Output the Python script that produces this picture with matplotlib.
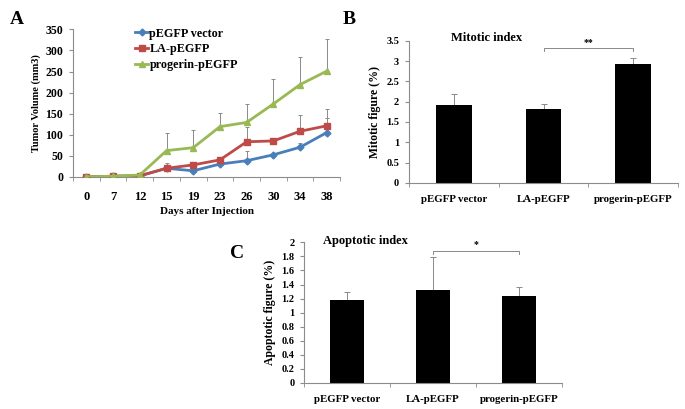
import numpy as np
import matplotlib
matplotlib.use("Agg")
import matplotlib.pyplot as plt

plt.rcParams['font.family'] = ['Liberation Serif', 'DejaVu Serif']
plt.rcParams['font.weight'] = 'bold'

# Panel A: tumor growth
days = ["0", "7", "12", "15", "19", "23", "26", "30", "34", "38"]
vector = [0, 1, 2, 20, 14, 30, 38, 52, 70, 105]
vector_err = [0, 0, 0, 0, 0, 0, 22, 0, 10, 35]
la = [0, 1, 2, 20, 28, 40, 83, 85, 108, 121]
la_err = [0, 0, 0, 13, 0, 0, 34, 0, 39, 39]
progerin = [0, 1, 4, 62, 69, 119, 129, 173, 219, 251]
progerin_err = [0, 0, 0, 41, 43, 33, 44, 60, 65, 76]

# Panels B and C
groups = ["pEGFP vector", "LA-pEGFP", "progerin-pEGFP"]
mitotic = [1.92, 1.83, 2.93]
mitotic_err = [0.26, 0.11, 0.15]
apoptotic = [1.18, 1.32, 1.24]
apoptotic_err = [0.12, 0.47, 0.13]

spine_col = '#8c8c8c'
err_col = '#8a8a8a'

fig = plt.figure(figsize=(6.85, 4.09), dpi=100)


def style_axes(ax):
    for s in ['top', 'right']:
        ax.spines[s].set_visible(False)
    for s in ['left', 'bottom']:
        ax.spines[s].set_color(spine_col)
        ax.spines[s].set_linewidth(0.8)
    ax.tick_params(axis='y', direction='out', length=3, color=spine_col, pad=4)


# ---- A ----
axA = fig.add_axes([0.1066, 0.568, 0.390, 0.360])
x = np.arange(len(days))
series = [
    (vector, vector_err, '#4a7ebb', 'D', 3.5, 'pEGFP vector'),
    (la, la_err, '#be4b48', 's', 5, 'LA-pEGFP'),
    (progerin, progerin_err, '#98b954', '^', 5, 'progerin-pEGFP'),
]
for vals, errs, col, mk, ms, lab in series:
    axA.errorbar(x, vals, yerr=[np.zeros(len(errs)), errs], fmt='none',
                 ecolor=err_col, elinewidth=0.7, capsize=1.5, capthick=0.7, zorder=1)
for vals, errs, col, mk, ms, lab in series:
    axA.plot(x, vals, color=col, marker=mk, markersize=ms, linewidth=2, label=lab, zorder=3)
axA.set_xlim(-0.5, len(days) - 0.5)
axA.set_ylim(0, 350)
axA.set_yticks(np.arange(0, 351, 50))
axA.set_xticks(x)
axA.set_xticklabels(days, fontsize=9, fontweight='bold')
axA.set_xticks(np.arange(-0.5, len(days), 1), minor=True)
axA.tick_params(axis='x', which='major', length=0, pad=10)
axA.tick_params(axis='x', which='minor', length=3, color=spine_col, direction='out')
style_axes(axA)
axA.tick_params(axis='y', labelsize=8.5)
for t in axA.get_yticklabels():
    t.set_fontweight('bold')
axA.set_ylabel("Tumor Volume (mm3)", fontsize=7.5, fontweight='bold', labelpad=3)
axA.set_xlabel("Days after Injection", fontsize=8, fontweight='bold', labelpad=3)
leg = axA.legend(loc='upper left', bbox_to_anchor=(0.2, 1.07), frameon=False,
                 fontsize=8.7, handlelength=1.1, handletextpad=0.1, labelspacing=0.3,
                 borderpad=0.2)
for t in leg.get_texts():
    t.set_fontweight('bold')
fig.text(17 / 685, 1 - 19 / 409, "A", fontsize=14, fontweight='bold', ha='center', va='center')


def bar_panel(rect, vals, errs, ymax, step, title, title_xy, ylabel, sig, sig_y, tick_d):
    ax = fig.add_axes(rect)
    xb = np.arange(len(groups))
    ax.bar(xb, vals, width=0.4, color='black', zorder=2)
    ax.errorbar(xb, vals, yerr=[np.zeros(len(errs)), errs], fmt='none',
                ecolor=err_col, elinewidth=0.7, capsize=2, capthick=0.7, zorder=1)
    ax.set_xlim(-0.5, len(groups) - 0.5)
    ax.set_ylim(0, ymax)
    ax.set_yticks(np.arange(0, ymax + 1e-9, step))
    ax.set_yticklabels([f"{v:g}" for v in np.arange(0, ymax + 1e-9, step)],
                       fontsize=7.5, fontweight='bold')
    ax.set_xticks(xb)
    ax.set_xticklabels(groups, fontsize=7.8, fontweight='bold')
    ax.set_xticks(np.arange(-0.5, len(groups), 1), minor=True)
    ax.tick_params(axis='x', which='major', length=0, pad=9)
    ax.tick_params(axis='x', which='minor', length=3, color=spine_col, direction='out')
    style_axes(ax)
    ax.set_ylabel(ylabel, fontsize=8.5, fontweight='bold', labelpad=4)
    ax.text(title_xy[0], title_xy[1], title, transform=ax.transAxes, fontsize=9,
            fontweight='bold', ha='center', va='center')
    ax.plot([1, 1, 2, 2], [sig_y - tick_d, sig_y, sig_y, sig_y - tick_d],
            color=err_col, linewidth=0.7, clip_on=False)
    ax.text(1.5, sig_y + tick_d * 0.4, sig, ha='center', va='bottom', fontsize=7)
    return ax


# ---- B ----
bar_panel([0.597, 0.553, 0.393, 0.347], mitotic, mitotic_err, 3.5, 0.5,
          "Mitotic index", (0.29, 1.02), "Mitotic figure (%)", "**", 3.32, 0.08)
fig.text(349 / 685, 1 - 19 / 409, "B", fontsize=14, fontweight='bold', ha='center', va='center')

# ---- C ----
bar_panel([0.4438, 0.0643, 0.3766, 0.343], apoptotic, apoptotic_err, 2.0, 0.2,
          "Apoptotic index", (0.24, 1.01), "Apoptotic figure (%)", "*", 1.88, 0.05)
fig.text(237 / 685, 1 - 253 / 409, "C", fontsize=14, fontweight='bold', ha='center', va='center')

fig.savefig("out.png", dpi=100)
